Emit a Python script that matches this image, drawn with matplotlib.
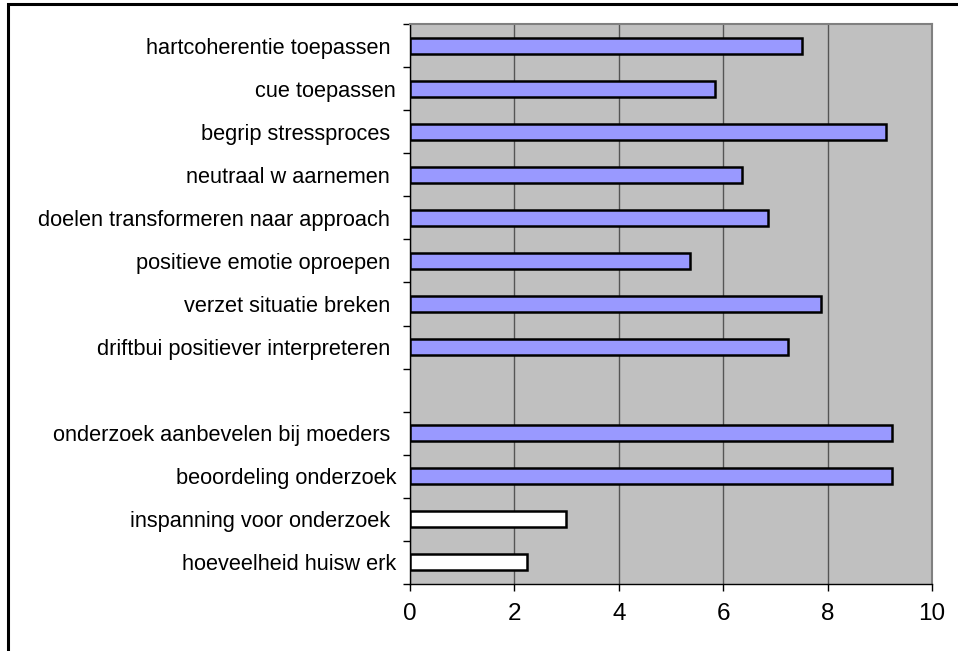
import matplotlib
matplotlib.use("Agg")
import matplotlib.pyplot as plt
from matplotlib.patches import Rectangle

# categories top to bottom (empty slot separates the two groups)
labels = [
    "hartcoherentie toepassen ",
    "cue toepassen",
    "begrip stressproces ",
    "neutraal w aarnemen ",
    "doelen transformeren naar approach ",
    "positieve emotie oproepen ",
    "verzet situatie breken ",
    "driftbui positiever interpreteren ",
    "",
    "onderzoek aanbevelen bij moeders ",
    "beoordeling onderzoek",
    "inspanning voor onderzoek ",
    "hoeveelheid huisw erk",
]
values = [7.5, 5.85, 9.11, 6.36, 6.85, 5.36, 7.88, 7.24, None, 9.24, 9.24, 2.98, 2.24]
colors = ["#9999FF"] * 8 + [None] + ["#9999FF"] * 2 + ["#FFFFFF"] * 2

plt.rcParams["font.family"] = ["Liberation Sans", "DejaVu Sans"]

fig = plt.figure(figsize=(9.58, 6.51), dpi=100)
ax = fig.add_axes([410 / 958, 1 - 584 / 651, 522 / 958, 560 / 651])
ax.set_facecolor("#C0C0C0")

n = len(labels)
ypos = list(range(n))
for y, v, c in zip(ypos, values, colors):
    if v is None:
        continue
    ax.barh(y, v, height=0.37, color=c, edgecolor="black", linewidth=1.8, zorder=3)

ax.set_ylim(n - 0.5, -0.5)
ax.set_xlim(0, 10)
ax.set_xticks([0, 2, 4, 6, 8, 10])
ax.set_yticks(ypos)
ax.set_yticklabels(labels, fontsize=15.7)
ax.tick_params(axis="y", length=0, pad=10)
# small tick marks between categories
ax.set_yticks([i - 0.5 for i in range(n + 1)], minor=True)
ax.tick_params(axis="y", which="minor", length=5, width=1, color="black", direction="out")
ax.tick_params(axis="x", labelsize=17.5, length=5, width=1, direction="out", pad=8.5)

ax.grid(axis="x", color="#555555", linewidth=1, zorder=1)
ax.set_axisbelow(True)
for side in ["top", "right"]:
    ax.spines[side].set_color("#808080")
    ax.spines[side].set_linewidth(1.5)
for side in ["left", "bottom"]:
    ax.spines[side].set_color("black")
    ax.spines[side].set_linewidth(1)

# outer chart border (right/bottom edges fall outside the image)
fig.patches.append(Rectangle((8 / 958, -0.05), 1.1, 1 - 4 / 651 + 0.05,
                             transform=fig.transFigure, fill=False,
                             edgecolor="black", linewidth=2.2))

fig.savefig("out.png", dpi=100)
